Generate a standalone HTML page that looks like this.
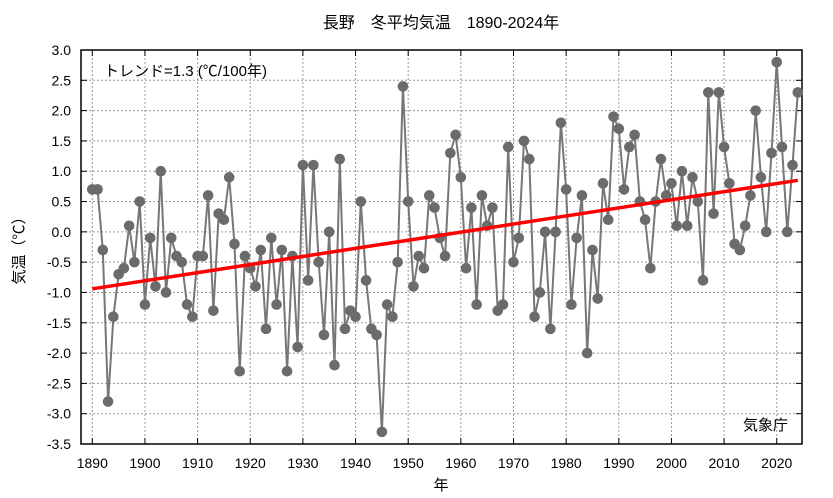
<!DOCTYPE html>
<html><head><meta charset="utf-8"><style>
body{margin:0;background:#fff;}
svg{display:block;font-family:"Liberation Sans","Noto Sans CJK JP",sans-serif;}
</style></head><body>
<svg id="s" width="833" height="498" xmlns="http://www.w3.org/2000/svg"></svg>
<script>
const d=[0.7,0.7,-0.3,-2.8,-1.4,-0.7,-0.6,0.1,-0.5,0.5,-1.2,-0.1,-0.9,1.0,-1.0,-0.1,-0.4,-0.5,-1.2,-1.4,-0.4,-0.4,0.6,-1.3,0.3,0.2,0.9,-0.2,-2.3,-0.4,-0.6,-0.9,-0.3,-1.6,-0.1,-1.2,-0.3,-2.3,-0.4,-1.9,1.1,-0.8,1.1,-0.5,-1.7,0.0,-2.2,1.2,-1.6,-1.3,-1.4,0.5,-0.8,-1.6,-1.7,-3.3,-1.2,-1.4,-0.5,2.4,0.5,-0.9,-0.4,-0.6,0.6,0.4,-0.1,-0.4,1.3,1.6,0.9,-0.6,0.4,-1.2,0.6,0.1,0.4,-1.3,-1.2,1.4,-0.5,-0.1,1.5,1.2,-1.4,-1.0,0.0,-1.6,0.0,1.8,0.7,-1.2,-0.1,0.6,-2.0,-0.3,-1.1,0.8,0.2,1.9,1.7,0.7,1.4,1.6,0.5,0.2,-0.6,0.5,1.2,0.6,0.8,0.1,1.0,0.1,0.9,0.5,-0.8,2.3,0.3,2.3,1.4,0.8,-0.2,-0.3,0.1,0.6,2.0,0.9,0.0,1.3,2.8,1.4,0.0,1.1,2.3];
const L=81,R=802,T=50,B=444;
const X=y=>92.3+(y-1890)*5.265, Y=v=>T+(3-v)*(B-T)/6.5;
let s='';
for(let v=-3.5;v<=3.01;v+=0.5){const y=Y(v);
 s+=`<line x1="${L}" x2="${R}" y1="${y}" y2="${y}" stroke="#999" stroke-dasharray="2,2" stroke-width="1"/>`;
 s+=`<line x1="${L}" x2="${L+6}" y1="${y}" y2="${y}" stroke="#000"/><line x1="${R-6}" x2="${R}" y1="${y}" y2="${y}" stroke="#000"/>`;
 s+=`<text x="71" y="${y+5}" font-size="14" text-anchor="end">${v.toFixed(1)}</text>`;}
for(let yr=1890;yr<=2020;yr+=10){const x=X(yr);
 s+=`<line x1="${x}" x2="${x}" y1="${T}" y2="${B}" stroke="#999" stroke-dasharray="2,2" stroke-width="1"/>`;
 s+=`<line x1="${x}" x2="${x}" y1="${B-6}" y2="${B}" stroke="#000"/><line x1="${x}" x2="${x}" y1="${T}" y2="${T+6}" stroke="#000"/>`;
 s+=`<text x="${x}" y="468" font-size="14" text-anchor="middle">${yr}</text>`;}
s+=`<rect x="${L}" y="${T}" width="${R-L}" height="${B-T}" fill="none" stroke="#000" stroke-width="1.5"/>`;
let p=d.map((v,i)=>X(1890+i).toFixed(1)+','+Y(v).toFixed(1)).join(' ');
s+=`<polyline points="${p}" fill="none" stroke="#777" stroke-width="2"/>`;
d.forEach((v,i)=>{s+=`<circle cx="${X(1890+i)}" cy="${Y(v)}" r="5.3" fill="#6b6b6b"/>`;});
s+=`<line x1="${X(1890)}" y1="${Y(-0.94)}" x2="${X(2024)}" y2="${Y(0.85)}" stroke="#f00" stroke-width="3.5"/>`;
s+=`<text x="104" y="76" font-size="15">トレンド=1.3 (℃/100年)</text>`;
s+=`<text x="788" y="430" font-size="15" text-anchor="end">気象庁</text>`;
s+=`<text x="441" y="28" font-size="16" text-anchor="middle">長野　冬平均気温　1890-2024年</text>`;
s+=`<text x="441" y="490" font-size="15" text-anchor="middle">年</text>`;
s+=`<text transform="translate(24,247) rotate(-90)" font-size="15" text-anchor="middle">気温（℃）</text>`;
document.getElementById('s').innerHTML=s;
</script>
</body></html>
